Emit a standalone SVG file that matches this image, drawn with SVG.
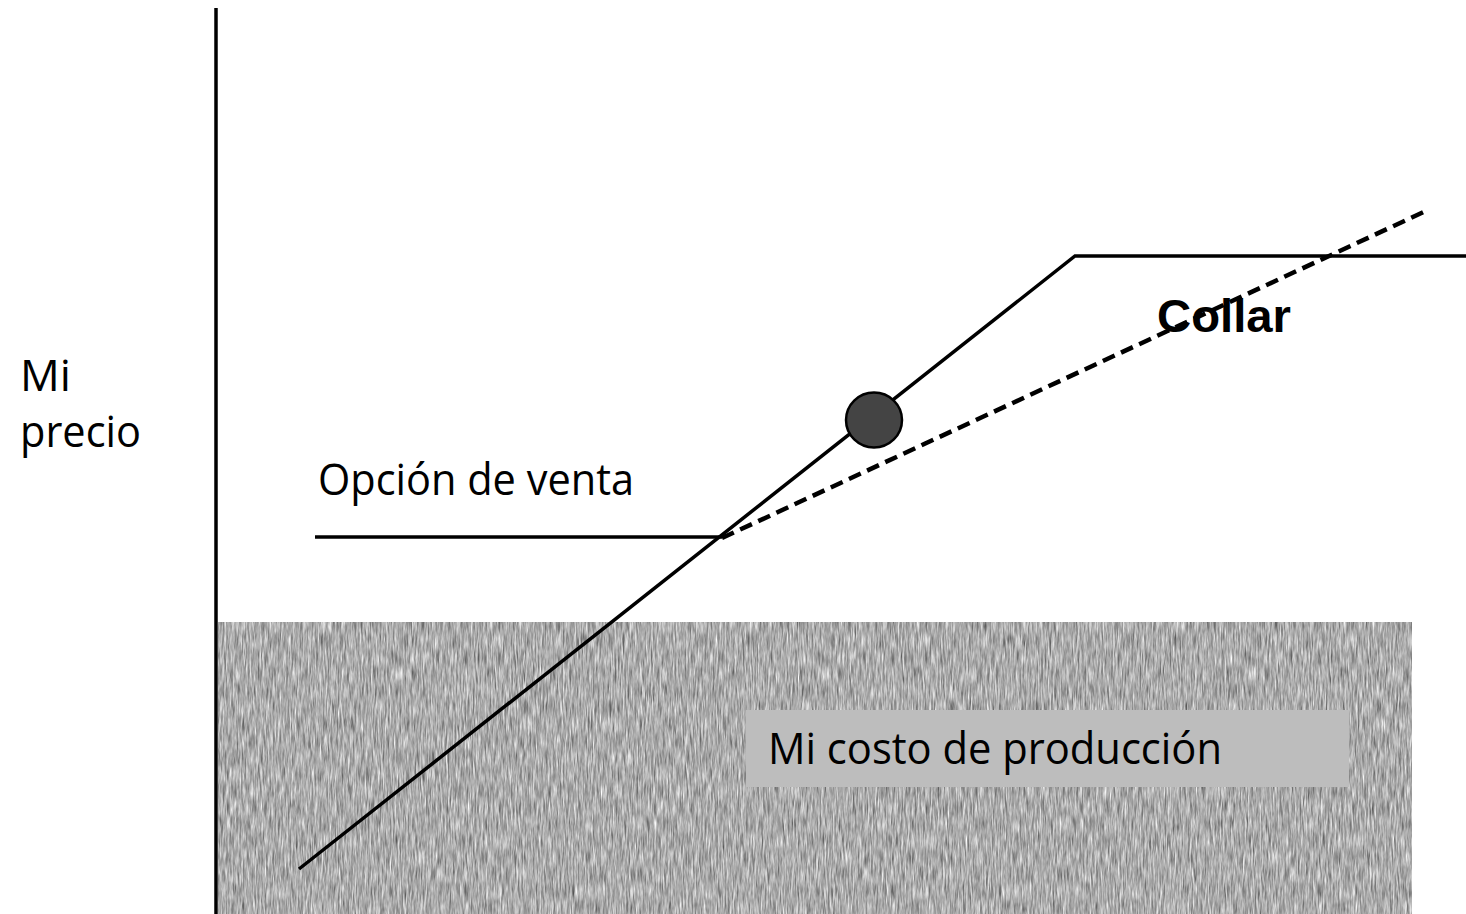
<svg xmlns="http://www.w3.org/2000/svg" width="1466" height="914" viewBox="0 0 1466 914">
<style>
.lbl{font-family:"Open Sans","Noto Sans","Liberation Sans",sans-serif;font-size:43px;fill:#000}
.ln{stroke:#000;stroke-width:3.5;fill:none;stroke-linecap:butt}
.dash{stroke:#000;stroke-width:4.5;fill:none;stroke-dasharray:13 7}
</style>
<defs>
<filter id="grain" x="0" y="0" width="100%" height="100%" color-interpolation-filters="sRGB">
<feTurbulence type="fractalNoise" baseFrequency="0.6 0.06" numOctaves="3" seed="4" result="n"/>
<feColorMatrix in="n" type="matrix" values="0.38 0.38 0.38 0 0.1  0.38 0.38 0.38 0 0.1  0.38 0.38 0.38 0 0.1  0 0 0 0 1"/>
</filter>
</defs>
<rect width="1466" height="914" fill="#fff"/>
<g id="cost-area">
<rect x="218" y="622" width="1194" height="292" fill="#a8a8a8" filter="url(#grain)"/>
</g>
<g id="cost-label">
<rect x="746" y="710" width="603" height="77" fill="#bdbdbd"/>
<text class="lbl" x="768" y="764" textLength="454" lengthAdjust="spacingAndGlyphs">Mi costo de producción</text>
</g>
<g id="axis">
<line class="ln" x1="216" y1="8" x2="216" y2="914"/>
</g>
<g id="y-label">
<text class="lbl" x="20" y="391" textLength="51" lengthAdjust="spacingAndGlyphs">Mi</text>
<text class="lbl" x="20" y="447" textLength="121" lengthAdjust="spacingAndGlyphs">precio</text>
</g>
<g id="connectors">
<polyline class="ln" points="299,869 1075,256 1466,256"/>
<line class="ln" x1="315" y1="537" x2="722" y2="537"/>
<line class="dash" x1="722" y1="538" x2="1428" y2="210"/>
</g>
<g id="put-label">
<text class="lbl" x="318" y="495" textLength="316" lengthAdjust="spacingAndGlyphs">Opción de venta</text>
</g>
<g id="price-point">
<ellipse cx="874" cy="420" rx="28" ry="27.5" fill="#444" stroke="#000" stroke-width="2.5"/>
</g>
<g id="collar-label">
<text x="1157" y="332" font-family="Liberation Sans, Arial, sans-serif" font-weight="bold" font-size="47" fill="#000" textLength="134" lengthAdjust="spacingAndGlyphs">Collar</text>
</g>
</svg>
